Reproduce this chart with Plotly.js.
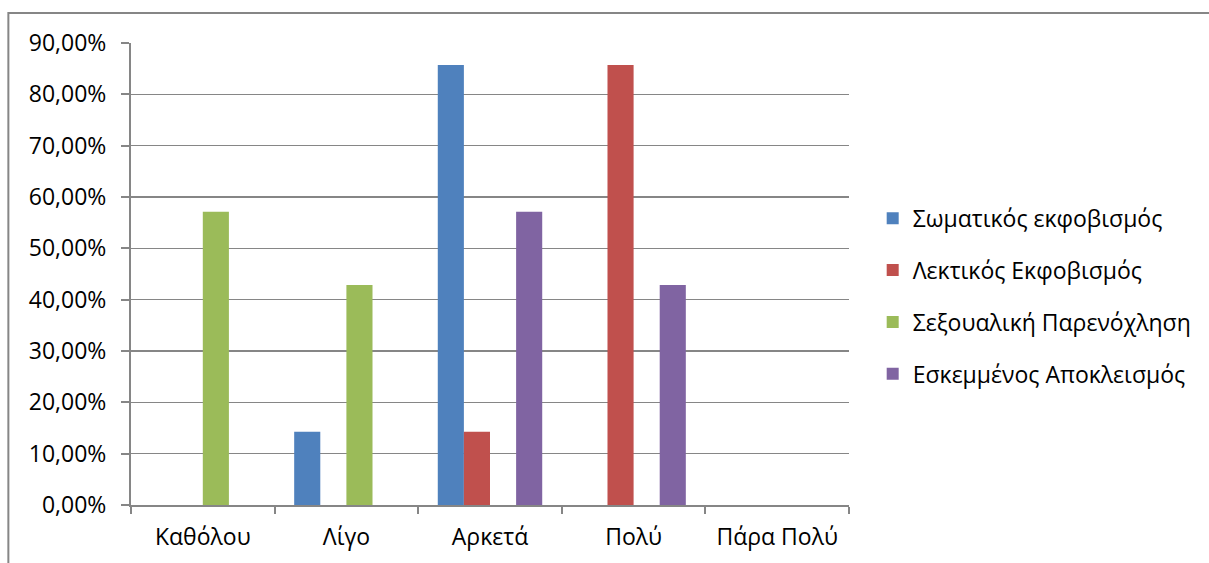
<!DOCTYPE html>
<html>
<head>
<meta charset="utf-8">
<script src="https://cdn.plot.ly/plotly-3.0.1.min.js"></script>
<style>
  html, body { margin: 0; padding: 0; background: #ffffff; }
  #chart { width: 1209px; height: 563px; }
</style>
</head>
<body>
<div id="chart"></div>
<script>
// Answer levels on the x axis
const categories = ['Καθόλου', 'Λίγο', 'Αρκετά', 'Πολύ', 'Πάρα Πολύ'];

// Series names
const seriesNames = [
  'Σωματικός εκφοβισμός',
  'Λεκτικός Εκφοβισμός',
  'Σεξουαλική Παρενόχληση',
  'Εσκεμμένος Αποκλεισμός'
];

// Share of answers per level (fractions)
const physical = [0, 0.1429, 0.8571, 0, 0];
const verbal   = [0, 0, 0.1429, 0.8571, 0];
const sexual   = [0.5714, 0.4286, 0, 0, 0];
const exclusion = [0, 0, 0.5714, 0.4286, 0];

const seriesValues = [physical, verbal, sexual, exclusion];
const seriesColors = ['#4F81BD', '#C0504D', '#9BBB59', '#8064A2'];

const FONT = '"Open Sans", "Noto Sans", "DejaVu Sans", sans-serif';
const GRID = '#868686';
const SIZE = 23;

const traces = seriesValues.map((vals, i) => ({
  type: 'bar',
  name: seriesNames[i],
  x: categories,
  y: vals,
  marker: { color: seriesColors[i], line: { width: 0 } },
  legendgroup: 'g' + i,
  hoverinfo: 'x+y+name'
}));

const layout = {
  width: 1209,
  height: 563,
  margin: { l: 131, r: 358, t: 43, b: 58 },
  paper_bgcolor: '#ffffff',
  plot_bgcolor: '#ffffff',
  separators: ',.',
  font: { family: FONT, size: SIZE, color: '#000000' },
  barmode: 'group',
  bargap: 0.2727,
  bargroupgap: 0,
  showlegend: true,
  legend: {
    x: 1.033,
    xanchor: 'left',
    y: 0.452,
    yanchor: 'middle',
    font: { family: FONT, size: SIZE, color: '#000000' },
    tracegroupgap: 19,
    traceorder: 'grouped',
    itemwidth: 30,
    bgcolor: 'rgba(0,0,0,0)'
  },
  xaxis: {
    type: 'category',
    showline: true,
    linecolor: GRID,
    linewidth: 2,
    showgrid: false,
    zeroline: false,
    ticks: 'outside',
    tickson: 'boundaries',
    ticklen: 7,
    tickwidth: 2,
    tickcolor: GRID,
    ticklabelstandoff: 10,
    tickfont: { family: FONT, size: SIZE, color: '#000000' }
  },
  yaxis: {
    range: [0, 0.9],
    dtick: 0.1,
    tick0: 0,
    tickformat: '.2%',
    showline: true,
    linecolor: GRID,
    linewidth: 2,
    showgrid: true,
    gridcolor: GRID,
    gridwidth: 1.5,
    zeroline: false,
    ticks: 'outside',
    ticklen: 8,
    tickwidth: 2,
    tickcolor: GRID,
    ticklabelstandoff: 10,
    tickfont: { family: FONT, size: SIZE, color: '#000000' }
  },
  shapes: [
    {
      // outer chart frame
      type: 'rect',
      xref: 'paper', yref: 'paper',
      x0: -0.1708, x1: 1.52,
      y0: -0.2, y1: 1.0649,
      line: { color: GRID, width: 2 },
      fillcolor: 'rgba(0,0,0,0)',
      layer: 'below'
    }
  ]
};

Plotly.newPlot('chart', traces, layout, { staticPlot: true, displayModeBar: false });
</script>
</body>
</html>
